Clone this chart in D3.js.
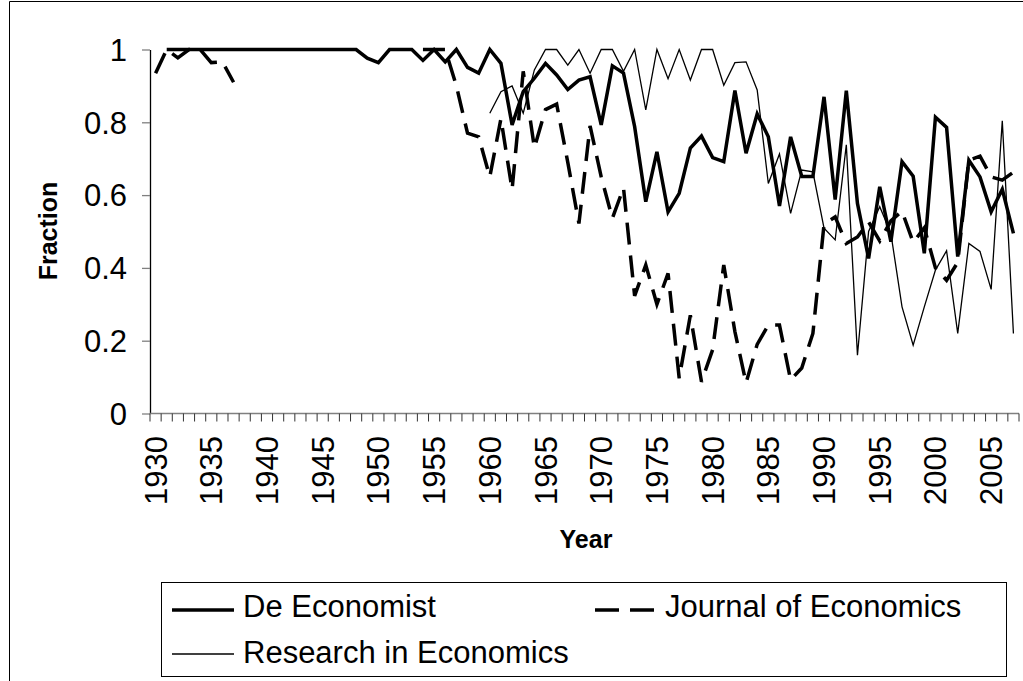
<!DOCTYPE html>
<html>
<head>
<meta charset="utf-8">
<script src="https://cdn.jsdelivr.net/npm/d3@7"></script>
<style>
  html, body { margin: 0; padding: 0; background: #fff; }
  svg { display: block; font-family: "Liberation Sans", Arial, sans-serif; }
</style>
</head>
<body>
<svg id="chart" width="1023" height="681"></svg>
<script>
// ---------- data ----------
const years = d3.range(1930, 2008);
const seriesNames = ["De Economist", "Journal of Economics", "Research in Economics"];
const yTickValues = [0, 0.2, 0.4, 0.6, 0.8, 1];
const yTickLabels = ["0", "0.2", "0.4", "0.6", "0.8", "1"];

const deEconomist = [
  null,
  1,1,1,1,1,1,1,1,1,1,1,1,1,1,1,1,1,1,            // 1931-1948
  0.976,0.964,1,1,1,0.97,1,0.966,1,0.951,           // 1949-1958
  0.935,1,0.962,0.793,0.884,0.921,0.962,0.93,0.89,0.916, // 1959-1968
  0.925,0.793,0.955,0.935,0.788,0.582,0.719,0.554,0.605,0.729, // 1969-1978
  0.762,0.703,0.692,0.887,0.715,0.823,0.76,0.57,0.76,0.651, // 1979-1988
  0.651,0.87,0.588,0.887,0.577,0.426,0.623,0.472,0.692,0.652, // 1989-1998
  0.44,0.814,0.786,0.431,0.696,0.65,0.554,0.616,0.495  // 1999-2007
];

const journalOfEconomics = [
  0.935,1,0.977,1,1,0.964,0.966,0.91,               // 1930-1937
  null,null,null,null,null,null,null,null,
  null,null,null,null,null,null,null,null,          // 1938-1953
  1,1,1,0.90,0.77,                                  // 1954-1958
  0.76,0.65,0.81,0.615,0.94,0.73,0.835,0.85,0.69,0.522, // 1959-1968
  0.79,0.65,0.536,0.62,0.323,0.408,0.30,0.385,0.097,0.27, // 1969-1978
  0.087,0.175,0.408,0.225,0.084,0.19,0.243,0.243,0.092,0.125, // 1979-1988
  0.22,0.52,0.54,0.467,0.485,0.526,0.474,0.529,0.556,0.47, // 1989-1998
  0.51,0.40,0.366,0.415,0.696,0.707,0.65,0.641,0.663 // 1999-2007
];

const researchInEconomics = [
  null,null,null,null,null,null,null,null,null,null,
  null,null,null,null,null,null,null,null,null,null,
  null,null,null,null,null,null,null,null,null,null, // 1930-1959
  0.825,0.884,0.90,0.825,0.944,1,1,0.957,1,         // 1960-1968
  0.935,1,1,0.94,1,0.834,1,0.92,1,0.916,            // 1969-1978
  1,1,0.902,0.964,0.966,0.889,0.632,0.713,0.55,0.669, // 1979-1988
  0.664,0.509,0.477,0.738,0.16,0.50,0.568,0.495,0.293,0.188, // 1989-1998
  0.293,0.394,0.447,0.22,0.467,0.445,0.341,0.804,0.22 // 1999-2007
];

// ---------- layout ----------
const svg = d3.select("#chart");
const plotLeft = 150, plotRight = 1019, plotTop = 49.5, plotBottom = 413.5;

const x = d3.scaleBand().domain(years).range([plotLeft, plotRight]).paddingInner(0).paddingOuter(0);
const y = d3.scaleLinear().domain([0, 1]).range([plotBottom, plotTop]);
const cx = yr => x(yr) + x.bandwidth() / 2;

// outer frame (cropped chart border)
svg.append("line").attr("x1", 9.5).attr("x2", 9.5).attr("y1", 1.5).attr("y2", 681).attr("stroke", "#000").attr("stroke-width", 1);
svg.append("line").attr("x1", 9.5).attr("x2", 1023).attr("y1", 1.5).attr("y2", 1.5).attr("stroke", "#000").attr("stroke-width", 1);

// y axis
const yAxis = d3.axisLeft(y).tickValues(yTickValues).tickSize(8).tickSizeOuter(0)
  .tickFormat((d, i) => yTickLabels[i]);
const gy = svg.append("g").attr("transform", `translate(${plotLeft},0)`).call(yAxis);
gy.select(".domain").attr("stroke", "#000").attr("stroke-width", 1.3);
gy.selectAll(".tick line").attr("stroke", "#808080").attr("stroke-width", 1.3);
gy.selectAll(".tick text").attr("font-size", 31).attr("fill", "#000")
  .attr("x", -23).attr("dy", "0.35em")
  .attr("font-family", "'Liberation Sans', Arial, sans-serif");

// x axis line + tick marks at category boundaries
const boundaries = years.map(yr => x(yr)).concat([plotRight]);
svg.append("line").attr("x1", plotLeft).attr("x2", plotRight)
  .attr("y1", plotBottom).attr("y2", plotBottom)
  .attr("stroke", "#808080").attr("stroke-width", 1.5);
svg.append("g").selectAll("line").data(boundaries).join("line")
  .attr("x1", d => d).attr("x2", d => d)
  .attr("y1", plotBottom).attr("y2", plotBottom + 8)
  .attr("stroke", "#333").attr("stroke-width", 1);

// x labels every 5 years, rotated
svg.append("g").selectAll("text").data(years.filter(yr => yr % 5 === 0)).join("text")
  .attr("transform", yr => `translate(${cx(yr) + 11},436) rotate(-90)`)
  .attr("text-anchor", "end")
  .attr("font-size", 31)
  .attr("fill", "#000")
  .text(yr => String(yr));

// axis titles
svg.append("text").attr("x", 586).attr("y", 548).attr("text-anchor", "middle")
  .attr("font-size", 25).attr("font-weight", "bold").text("Year");
svg.append("text").attr("transform", "translate(57,231) rotate(-90)").attr("text-anchor", "middle")
  .attr("font-size", 25).attr("font-weight", "bold").text("Fraction");

// series
const styles = [
  { w: 3.5, dash: null },
  { w: 3.5, dash: "22,11" },
  { w: 1.3, dash: null }
];
const allSeries = [deEconomist, journalOfEconomics, researchInEconomics];
const line = d3.line()
  .defined(d => d.v !== null)
  .x(d => cx(d.yr))
  .y(d => y(d.v));

allSeries.forEach((vals, i) => {
  const pts = years.map((yr, j) => ({ yr, v: vals[j] }));
  svg.append("path")
    .datum(pts)
    .attr("d", line)
    .attr("fill", "none")
    .attr("stroke", "#000")
    .attr("stroke-width", styles[i].w)
    .attr("stroke-linejoin", "miter")
    .attr("stroke-dasharray", styles[i].dash);
});

// legend
const lg = svg.append("g");
lg.append("rect").attr("x", 161.5).attr("y", 582.5).attr("width", 845).attr("height", 94)
  .attr("fill", "#fff").attr("stroke", "#000").attr("stroke-width", 1);
const legendPos = [
  { x1: 172, x2: 234, ly: 610, tx: 243, ty: 617 },
  { x1: 595, x2: 654, ly: 610, tx: 665, ty: 617 },
  { x1: 172, x2: 234, ly: 654, tx: 243, ty: 663 }
];
seriesNames.forEach((name, i) => {
  const p = legendPos[i];
  lg.append("line").attr("x1", p.x1).attr("x2", p.x2).attr("y1", p.ly).attr("y2", p.ly)
    .attr("stroke", "#000").attr("stroke-width", styles[i].w)
    .attr("stroke-dasharray", styles[i].dash ? "24,11" : null);
  lg.append("text").attr("x", p.tx).attr("y", p.ty).attr("font-size", 31).attr("fill", "#000").text(name);
});
</script>
</body>
</html>
